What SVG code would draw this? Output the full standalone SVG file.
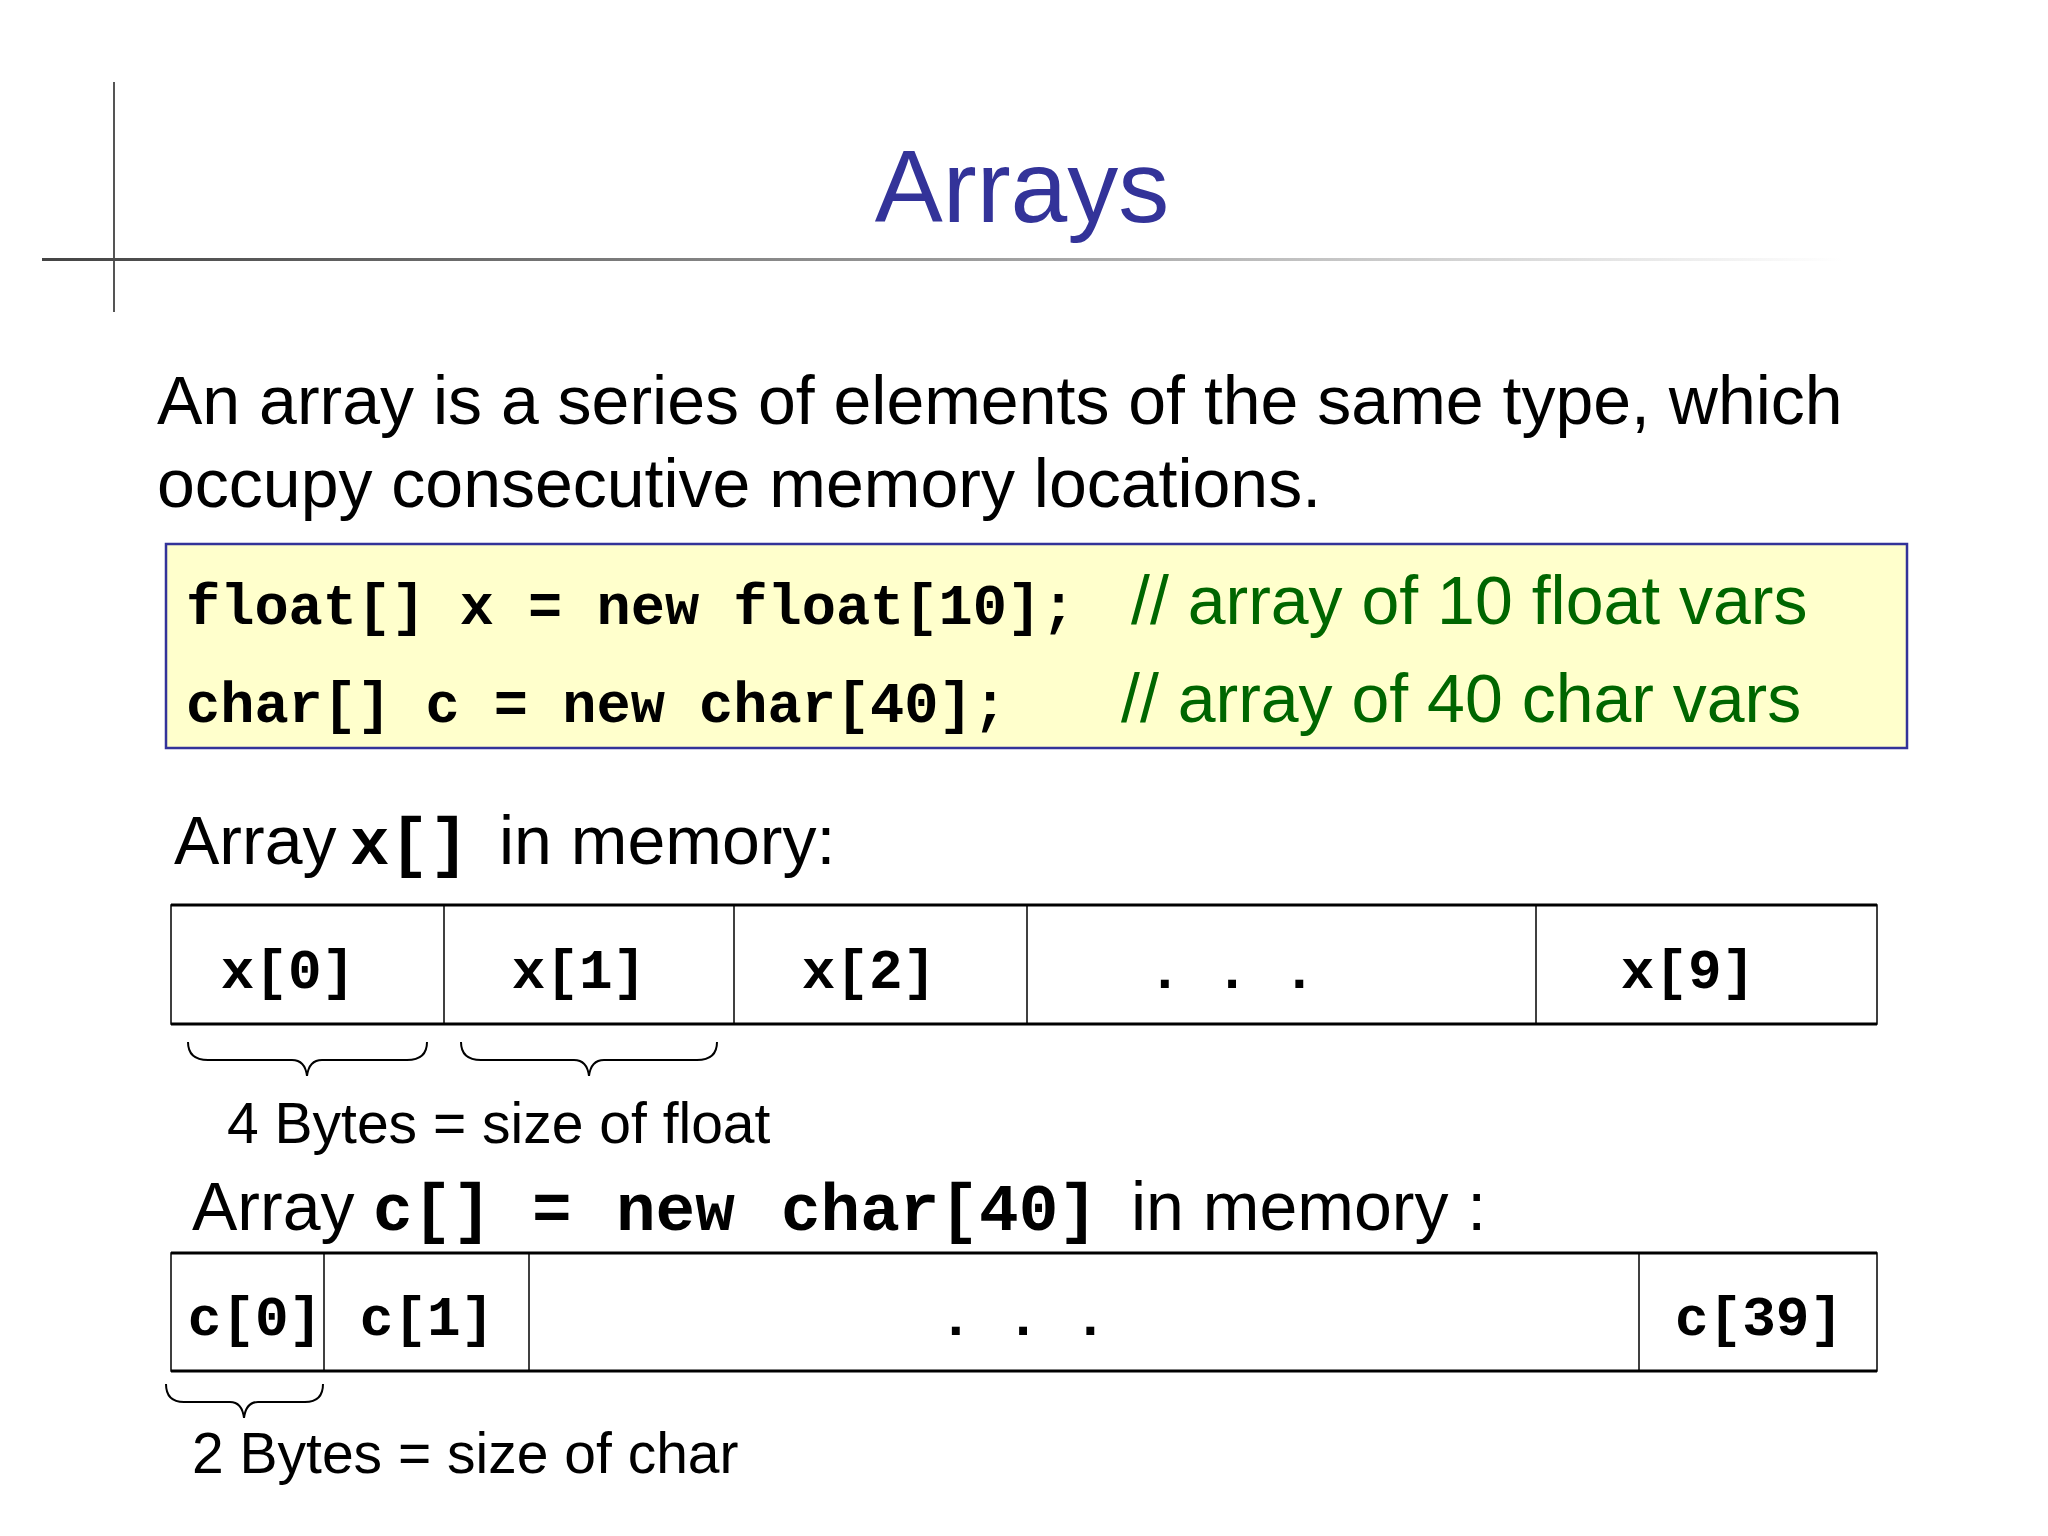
<svg xmlns="http://www.w3.org/2000/svg" width="2048" height="1536" viewBox="0 0 2048 1536">
<defs>
<linearGradient id="hl" x1="0" y1="0" x2="1" y2="0">
<stop offset="0" stop-color="#444"/>
<stop offset="0.5" stop-color="#999"/>
<stop offset="1" stop-color="#fff"/>
</linearGradient>
<style>
.sans{font-family:"Liberation Sans",Arial,sans-serif;fill:#000}
.mono{font-family:"Liberation Mono","Courier New",monospace;font-weight:bold;fill:#000}
.cmt{font-family:"Liberation Sans",Arial,sans-serif;fill:#006600;font-size:68px}
.cell{fill:#fff;stroke:#000;stroke-width:1.5}
.div{stroke:#000;stroke-width:1.5}
.brace{fill:none;stroke:#000;stroke-width:2}
</style>
</defs>
<rect width="2048" height="1536" fill="#fff"/>
<line x1="114" y1="82" x2="114" y2="312" stroke="#555" stroke-width="2"/>
<rect x="42" y="258" width="1800" height="3" fill="url(#hl)"/>
<text x="1022" y="222" text-anchor="middle" font-family="Liberation Sans, Arial, sans-serif" font-size="102" fill="#333399">Arrays</text>
<text class="sans" font-size="68" x="157" y="424">An array is a series of elements of the same type, which</text>
<text class="sans" font-size="68" x="157" y="507">occupy consecutive memory locations.</text>
<g id="codebox">
<rect x="166" y="544" width="1741" height="204" fill="#ffffcc" stroke="#333399" stroke-width="2.5"/>
<text class="mono" font-size="57" x="186" y="624">float[] x = new float[10];</text>
<text class="cmt" x="1131" y="624">// array of 10 float vars</text>
<text class="mono" font-size="57" x="186" y="722">char[] c = new char[40];</text>
<text class="cmt" x="1121" y="722">// array of 40 char vars</text>
</g>
<text class="sans" font-size="68" x="174" y="864">Array <tspan class="mono" font-size="66" x="350">x[]</tspan><tspan x="499">in memory:</tspan></text>
<g id="array-x">
<rect class="cell" x="171" y="905" width="1706" height="119"/>
<line class="div" x1="444" y1="905" x2="444" y2="1024"/>
<line class="div" x1="734" y1="905" x2="734" y2="1024"/>
<line class="div" x1="1027" y1="905" x2="1027" y2="1024"/>
<line class="div" x1="1536" y1="905" x2="1536" y2="1024"/>
<line x1="171" y1="905" x2="1877" y2="905" stroke="#000" stroke-width="3"/>
<line x1="171" y1="1024" x2="1877" y2="1024" stroke="#000" stroke-width="3"/>
<g class="mono" font-size="56" text-anchor="middle">
<text x="288" y="988">x[0]</text>
<text x="579" y="988">x[1]</text>
<text x="869" y="988">x[2]</text>
<text x="1232" y="988">. . .</text>
<text x="1688" y="988">x[9]</text>
</g>
</g>
<g id="braces-x">
<path class="brace" d="M188,1042 Q188,1060 208,1060 L292,1060 Q305,1060 307,1076 Q309,1060 322,1060 L407,1060 Q427,1060 427,1042"/>
<path class="brace" d="M461,1042 Q461,1060 481,1060 L574,1060 Q587,1060 589,1076 Q591,1060 604,1060 L697,1060 Q717,1060 717,1042"/>
</g>
<text class="sans" font-size="57" x="227" y="1143">4 Bytes = size of float</text>
<text class="sans" font-size="68" x="192" y="1230">Array <tspan class="mono" font-size="66" x="373">c[]</tspan><tspan class="mono" font-size="66" x="532">=</tspan><tspan class="mono" font-size="66" x="616">new</tspan><tspan class="mono" font-size="66" x="781">char[40]</tspan><tspan x="1131">in memory :</tspan></text>
<g id="array-c">
<rect class="cell" x="171" y="1253" width="1706" height="118"/>
<line class="div" x1="324" y1="1253" x2="324" y2="1371"/>
<line class="div" x1="529" y1="1253" x2="529" y2="1371"/>
<line class="div" x1="1639" y1="1253" x2="1639" y2="1371"/>
<line x1="171" y1="1253" x2="1877" y2="1253" stroke="#000" stroke-width="3"/>
<line x1="171" y1="1371" x2="1877" y2="1371" stroke="#000" stroke-width="3"/>
<g class="mono" font-size="56" text-anchor="middle">
<text x="255" y="1335">c[0]</text>
<text x="427" y="1335">c[1]</text>
<text x="1023" y="1335">. . .</text>
<text x="1759" y="1335">c[39]</text>
</g>
</g>
<g id="brace-c">
<path class="brace" d="M166,1384 Q166,1402 184,1402 L230,1402 Q242,1402 244,1418 Q246,1402 258,1402 L305,1402 Q323,1402 323,1384"/>
</g>
<text class="sans" font-size="57" x="192" y="1473">2 Bytes = size of char</text>
</svg>
